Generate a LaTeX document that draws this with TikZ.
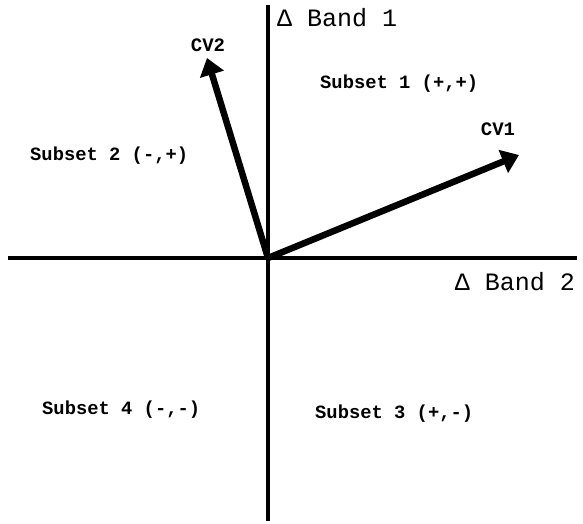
\documentclass[tikz,border=0pt]{standalone}
\usepackage{fontspec}
\setmonofont{Liberation Mono}
\usetikzlibrary{arrows.meta}
\begin{document}
\begin{tikzpicture}[x=1pt,y=-1pt,
  axis/.style={line width=4pt},
  vec/.style={line width=6.5pt,-{Triangle[length=17pt,width=24pt]}},
  sublabel/.style={font=\ttfamily\bfseries\fontsize{18.8}{20}\selectfont,inner sep=0pt},
  axlabel/.style={font=\ttfamily\fontsize{25}{27}\selectfont,inner sep=0pt},
  cvlabel/.style={font=\ttfamily\bfseries\fontsize{19}{21}\selectfont,inner sep=0pt}]
\useasboundingbox (0,0) rectangle (583,524);
\coordinate (o) at (268,258);
\coordinate (vtop) at (268,5);
\coordinate (vbot) at (268,521);
\coordinate (hl) at (8,258);
\coordinate (hr) at (577,258);
\draw[axis] (vtop) -- (vbot);
\draw[axis] (hl) -- (hr);
\coordinate (cv2tip) at (207,58);
\coordinate (cv1tip) at (519,155);
\draw[vec] (o) -- (cv2tip);
\draw[vec] (o) -- (cv1tip);
\node[axlabel,anchor=west] (b1) at (277,18) {Δ Band 1};
\node[axlabel,anchor=east] (b2) at (575,282) {Δ Band 2};
\node[cvlabel] (cv2) at (208,45) {CV2};
\node[cvlabel] (cv1) at (498,129) {CV1};
\node[sublabel,anchor=west] (s1) at (320,84) {Subset 1 (+,+)};
\node[sublabel,anchor=west] (s2) at (30,156) {Subset 2 (-,+)};
\node[sublabel,anchor=west] (s4) at (42,410) {Subset 4 (-,-)};
\node[sublabel,anchor=west] (s3) at (315,414) {Subset 3 (+,-)};
\end{tikzpicture}
\end{document}
